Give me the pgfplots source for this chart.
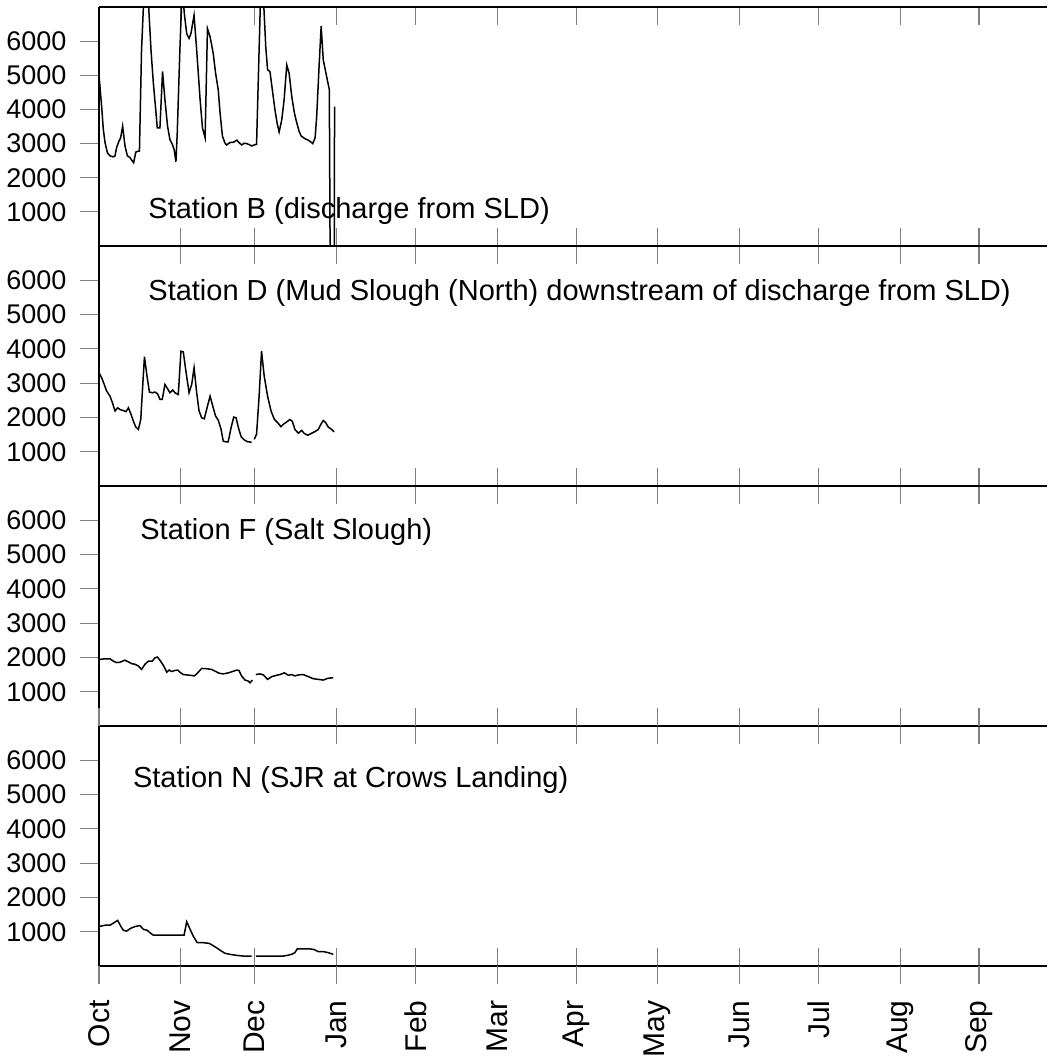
\documentclass[border=0pt]{standalone}
\usepackage{fontspec}
\setmainfont{Liberation Sans}
\usepackage{pgfplots}
\pgfplotsset{compat=1.18}
\begin{document}
\begin{tikzpicture}
\path[use as bounding box] (0,0) rectangle (524.5pt,530.5pt);
\tikzset{ttl/.style={anchor=base west, inner sep=0pt, font=\fontsize{14.5}{17}\selectfont}}
\pgfplotsset{
 panel/.style 2 args={
  scale only axis, width=474pt, height=#2,
  at={(49.5pt,#1)}, anchor=south west,
  xmin=0, xmax=361, ymin=0, ymax=7000,
  axis x line*=box, axis y line*=left,
  axis line style={line width=0.9pt},
  xtick={0,31,59.3,90.5,120.5,151.6,181.8,212.7,243.8,274.0,305.1,335.1},
  xticklabels={},
  ytick={1000,2000,3000,4000,5000,6000},
  xtick align=inside, ytick align=outside,
  xtick style={line width=0.6pt, /pgfplots/major tick length=9pt},
  ytick style={line width=0.6pt, /pgfplots/major tick length=9.5pt},
  yticklabel style={font=\fontsize{13.5}{16}\selectfont},
  yticklabel shift=8.5pt,
  /pgf/number format/assume math mode=true,
  /pgf/number format/set thousands separator={},
  unbounded coords=jump,
  clip=true,
 },
 data/.style={black, line width=0.75pt, mark=none},
}
% ---------------- Station B
\begin{axis}[panel={407.5pt}{119.5pt}]
\addplot[data] table {
x y
0 5000
1.0 4090
1.65 3410
2.3 3030
3.2 2730
4.2 2640
5.5 2610
6.1 2640
6.7 2880
7.6 3070
8.25 3170
9.0 3510
9.9 2930
10.8 2640
11.8 2590
12.4 2520
13.2 2440
14.0 2750
15.0 2780
15.4 2780
16.2 5740
17.8 8600
19.8 5740
20.7 4770
21.6 3990
22.2 3460
23.2 3460
24.2 5110
25.1 4290
26.1 3510
27.0 3120
27.9 2980
28.6 2830
29.3 2470
29.8 3320
30.8 5740
31.7 7600
32.5 6800
33.4 6220
34.3 6080
35.0 6220
36.2 6760
37.2 5740
38.5 4290
39.4 3460
40.4 3170
41.3 6370
42.3 6130
43.5 5640
44.4 5060
45.4 4580
46.1 3900
47.0 3220
48.0 3010
48.6 2960
49.9 3030
51.2 3040
52.5 3100
53.3 3030
54.3 2960
55.3 3010
56.2 3000
57.2 2970
58.1 2930
59.1 2960
60.0 2980
61.9 8400
63.5 5840
64.2 5160
65.1 5110
66.0 4580
67.0 3990
67.8 3610
68.6 3340
69.6 3700
70.5 4290
71.5 5300
72.4 5060
73.4 4380
74.4 3900
75.3 3610
76.2 3360
77.0 3220
78.5 3140
79.7 3100
80.8 3040
81.4 3000
82.3 3170
82.9 3800
83.8 5250
84.6 6440
85.4 5450
86.7 4960
87.7 4580
88.0 0
89.6 0
89.7 4080
};
\node[ttl] at (rel axis cs:0.0517,0.113) {Station B (discharge from SLD)};
\end{axis}
% ---------------- Station D
\begin{axis}[panel={287.5pt}{120pt}]
\addplot[data] table {
x y
0 3300
1.0 3160
2.0 2960
2.9 2770
4.2 2620
5.1 2430
6.1 2190
7.1 2280
8.0 2230
9.3 2200
10.3 2170
11.2 2280
12.2 2090
13.1 1890
14.0 1720
15.0 1650
15.9 1940
17.3 3770
18.2 3250
19.2 2740
20.3 2720
21.3 2740
22.3 2690
23.2 2530
24.1 2530
25.1 2960
26.1 2840
27.0 2720
28.1 2800
28.9 2720
30.2 2670
31.2 3930
32.1 3910
33.0 3400
34.3 2720
35.3 2960
36.2 3450
37.2 2720
38.1 2190
39.1 1990
40.1 1960
41.3 2330
42.3 2620
43.5 2280
44.4 2040
45.4 1920
46.5 1650
47.3 1310
48.2 1290
49.2 1290
50.3 1700
51.3 2010
52.2 1990
53.1 1700
54.1 1440
55.4 1340
56.6 1290
58.1 1280
58.6 nan
59.1 1360
60.0 1510
60.9 2530
61.9 3930
62.9 3210
64.2 2620
65.5 2190
66.8 1940
68.0 1850
69.3 1730
70.2 1800
71.5 1870
72.7 1940
73.6 1890
74.6 1650
75.9 1540
77.2 1620
78.2 1530
79.5 1480
81.0 1540
82.3 1590
83.5 1650
84.5 1800
85.4 1910
86.3 1850
87.3 1720
88.6 1650
89.5 1580
};
\node[ttl] at (rel axis cs:0.0517,0.772) {Station D (Mud Slough (North) downstream of discharge from SLD)};
\end{axis}
% ---------------- Station F
\begin{axis}[panel={167.5pt}{120pt}]
\addplot[data] table {
x y
0 1940
2.3 1960
4.2 1960
5.5 1890
6.7 1850
8.0 1860
9.9 1920
11.2 1870
12.4 1820
13.7 1800
15.0 1750
16.2 1650
17.5 1800
18.8 1890
20.3 1890
21.3 1990
22.2 2010
23.2 1920
24.5 1770
25.8 1570
26.7 1630
27.7 1590
28.9 1620
30.0 1630
30.8 1570
32.1 1500
33.4 1490
34.7 1480
36.3 1460
37.6 1550
39.1 1680
41.0 1670
42.9 1650
44.2 1600
45.7 1540
47.3 1520
49.3 1550
51.2 1600
52.4 1630
53.3 1620
54.3 1460
55.6 1340
56.9 1310
57.5 1260
58.4 1340
59.0 nan
59.7 1500
61.3 1520
62.6 1490
64.2 1360
65.8 1440
67.7 1480
68.9 1500
70.6 1550
72.1 1480
73.4 1500
74.6 1460
75.9 1490
77.8 1500
79.7 1440
81.6 1380
83.5 1360
85.4 1340
87.1 1390
89.2 1410
};
\node[ttl] at (rel axis cs:0.0432,0.777) {Station F (Salt Slough)};
\end{axis}
% ---------------- Station N
\begin{axis}[panel={47.5pt}{120pt},
  xticklabels={Oct,Nov,Dec,Jan,Feb,Mar,Apr,May,Jun,Jul,Aug,Sep},
  xticklabel style={rotate=90, anchor=east, inner sep=0pt, font=\fontsize{15}{18}\selectfont},
  xticklabel shift=17pt,
  extra x ticks={0,31,59.3,90.5,120.5,151.6,181.8,212.7,243.8,274.0,305.1,335.1},
  extra x tick labels={},
  extra x tick style={tick align=outside, /pgfplots/major tick length=10pt},
]
\addplot[data] table {
x y
0 1150
2.3 1190
4.2 1190
5.7 1260
7.1 1330
8.3 1160
9.3 1040
10.5 1020
12.1 1100
13.7 1150
15.6 1180
16.9 1070
18.4 1040
19.4 970
20.7 900
23.2 900
27.0 900
30.8 900
32.4 900
33.4 1290
34.7 1070
35.9 870
37.4 680
39.7 680
42.0 660
43.3 600
44.8 530
46.5 440
48.0 370
49.9 340
52.4 310
55.0 290
58.1 290
59.0 nan
59.7 290
62.6 290
66.4 290
70.2 290
71.7 310
73.4 340
74.6 390
75.5 500
77.8 500
80.2 500
81.9 480
83.5 420
85.4 420
87.3 390
89.2 340
};
\node[ttl] at (rel axis cs:0.0355,0.742) {Station N (SJR at Crows Landing)};
\end{axis}
\end{tikzpicture}
\end{document}
